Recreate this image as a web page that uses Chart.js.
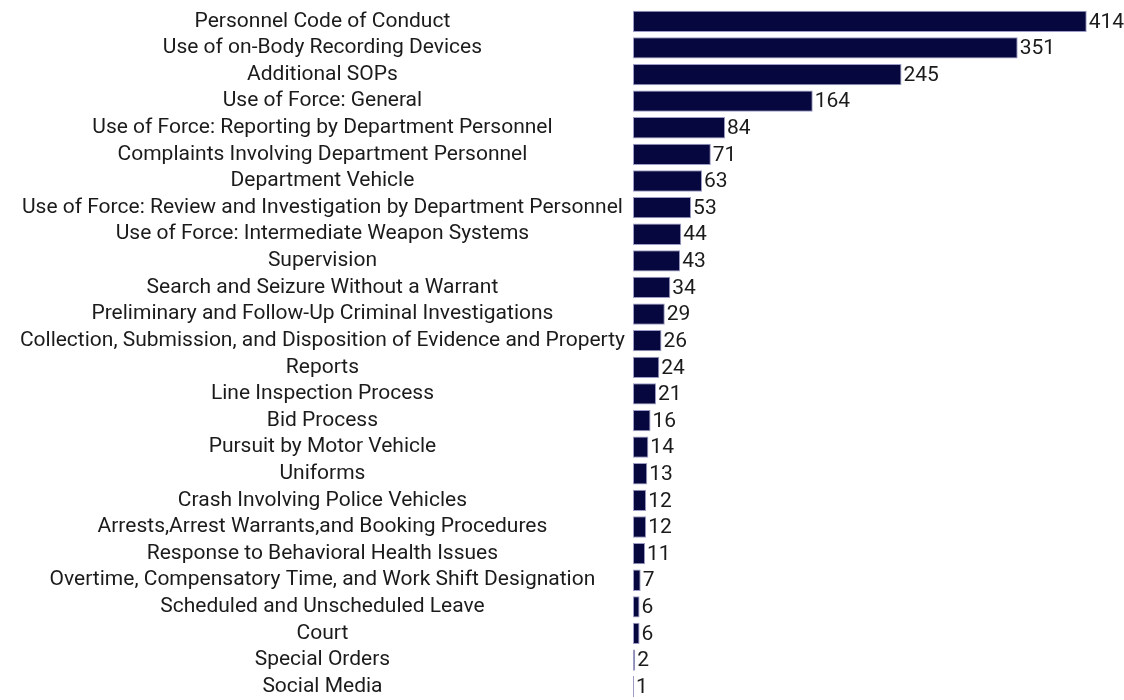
<!DOCTYPE html>
<html>
<head>
<meta charset="utf-8">
<script src="https://cdn.jsdelivr.net/npm/chart.js@4/dist/chart.umd.min.js"></script>
<style>
  html, body { margin: 0; padding: 0; background: #ffffff; }
  #wrap { width: 1124px; height: 700px; position: relative; }
</style>
</head>
<body>
<div id="wrap"><canvas id="chart"></canvas></div>
<script>
// Policy categories, ordered by count
const categories = [
  "Personnel Code of Conduct",
  "Use of on-Body Recording Devices",
  "Additional SOPs",
  "Use of Force: General",
  "Use of Force: Reporting by Department Personnel",
  "Complaints Involving Department Personnel",
  "Department Vehicle",
  "Use of Force: Review and Investigation by Department Personnel",
  "Use of Force: Intermediate Weapon Systems",
  "Supervision",
  "Search and Seizure Without a Warrant",
  "Preliminary and Follow-Up Criminal Investigations",
  "Collection, Submission, and Disposition of Evidence and Property",
  "Reports",
  "Line Inspection Process",
  "Bid Process",
  "Pursuit by Motor Vehicle",
  "Uniforms",
  "Crash Involving Police Vehicles",
  "Arrests,Arrest Warrants,and Booking Procedures",
  "Response to Behavioral Health Issues",
  "Overtime, Compensatory Time, and Work Shift Designation",
  "Scheduled and Unscheduled Leave",
  "Court",
  "Special Orders",
  "Social Media"
];

const counts = [414, 351, 245, 164, 84, 71, 63, 53, 44, 43, 34, 29, 26, 24, 21, 16, 14, 13, 12, 12, 11, 7, 6, 6, 2, 1];

const FONT_FAMILY = "Roboto, 'Open Sans', sans-serif";
const FONT_SIZE = 21;
const TEXT_COLOR = '#1b1b1b';
const AXIS_RIGHT = 633;

// Writes each count just past the end of its bar
const valueLabels = {
  id: 'valueLabels',
  afterDatasetsDraw(chart) {
    const ctx = chart.ctx;
    const meta = chart.getDatasetMeta(0);
    ctx.save();
    ctx.font = FONT_SIZE + 'px ' + FONT_FAMILY;
    ctx.fillStyle = TEXT_COLOR;
    ctx.textAlign = 'left';
    ctx.textBaseline = 'middle';
    meta.data.forEach((bar, i) => {
      ctx.fillText(String(counts[i]), bar.x + 2, bar.y + 1);
    });
    ctx.restore();
  }
};

new Chart(document.getElementById('chart'), {
  type: 'bar',
  data: {
    labels: categories,
    datasets: [{
      data: counts,
      backgroundColor: '#07073f',
      borderColor: '#9c9cc6',
      borderWidth: 1,
      borderSkipped: false,
      barPercentage: 0.8,
      categoryPercentage: 1.0
    }]
  },
  options: {
    indexAxis: 'y',
    responsive: true,
    maintainAspectRatio: false,
    animation: false,
    layout: { padding: { left: 0, right: 0, top: 8, bottom: 0 } },
    plugins: {
      legend: { display: false },
      tooltip: { enabled: false }
    },
    scales: {
      x: {
        display: false,
        min: 0,
        max: 448
      },
      y: {
        grid: { display: false, drawTicks: false },
        border: { display: false },
        ticks: {
          crossAlign: 'center',
          padding: 8,
          color: TEXT_COLOR,
          autoSkip: false,
          font: { family: FONT_FAMILY, size: FONT_SIZE }
        },
        afterFit(scale) {
          scale.width = AXIS_RIGHT;
          scale.paddingTop = 0;
          scale.paddingBottom = 0;
        }
      }
    }
  },
  plugins: [valueLabels]
});
</script>
</body>
</html>
